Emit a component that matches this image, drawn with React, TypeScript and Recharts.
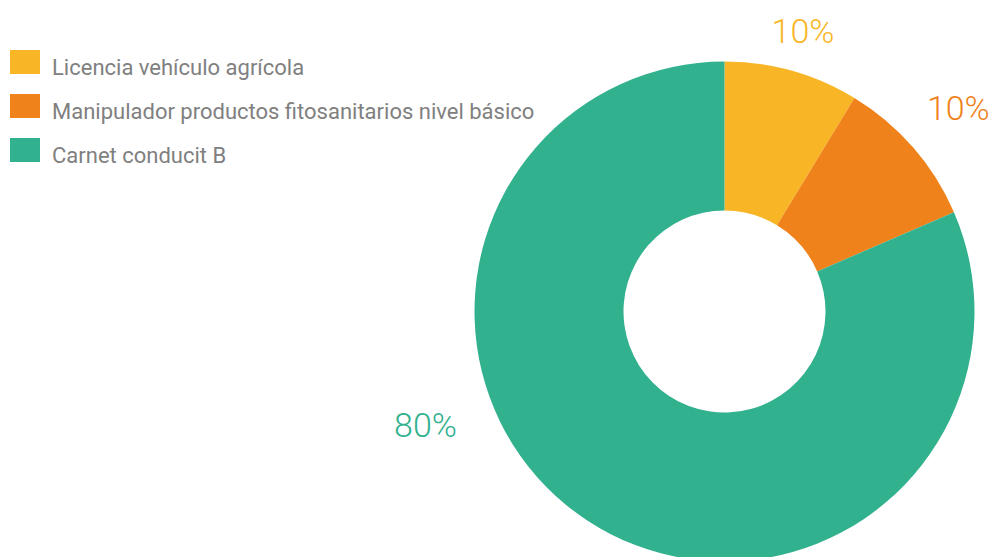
import { Cell, Legend, Pie, PieChart } from "recharts";

const categories = [
  "Licencia vehículo agrícola",
  "Manipulador productos fitosanitarios nivel básico",
  "Carnet conducit B",
];
const shares = [8.7, 9.8, 81.5];
const shareLabels = ["10%", "10%", "80%"];
const colors = ["#F8B627", "#EF821A", "#32B18F"];

const data = categories.map((name, i) => ({
  name,
  value: shares[i],
  label: shareLabels[i],
}));

const RAD = Math.PI / 180;

// label distance past the outer edge, and an angle override for the big slice
// (its mid angle falls below the picture, so the label is pulled up-left)
const labelGap = [41, 60, 70];
const labelAngle: Record<number, number> = { 2: 200.85 };

function renderLabel(props: any) {
  const { cx, cy, outerRadius, midAngle, index } = props;
  const angle = labelAngle[index] ?? midAngle;
  const r = outerRadius + labelGap[index];
  const x = cx + r * Math.cos(-angle * RAD);
  const y = cy + r * Math.sin(-angle * RAD);
  return (
    <text
      x={x}
      y={y}
      fill={colors[index]}
      textAnchor="middle"
      dominantBaseline="central"
      style={{ fontFamily: "Roboto", fontWeight: 300, fontSize: 34 }}
    >
      {data[index].label}
    </text>
  );
}

// keep the data order (recharts sorts the payload by name otherwise)
function renderLegend() {
  return (
    <div>
      {categories.map((name, i) => (
        <div key={name} style={{ display: "flex", alignItems: "center", height: 44 }}>
          <span
            style={{
              display: "inline-block",
              width: 30,
              height: 24,
              background: colors[i],
              marginRight: 12,
            }}
          />
          <span
            style={{
              fontFamily: "Roboto",
              fontSize: 22,
              color: "#808080",
              position: "relative",
              top: 5,
            }}
          >
            {name}
          </span>
        </div>
      ))}
    </div>
  );
}

export default function App() {
  return (
    <div style={{ position: "absolute", left: 0, top: 0, width: 990, height: 557, background: "#fff" }}>
      <PieChart width={990} height={557} margin={{ top: 0, right: 0, bottom: 0, left: 0 }}>
        <Pie
          data={data}
          dataKey="value"
          nameKey="name"
          cx={724.5}
          cy={311.5}
          innerRadius={101}
          outerRadius={250}
          startAngle={90}
          endAngle={-270}
          stroke="none"
          label={renderLabel}
          labelLine={false}
          isAnimationActive={false}
        >
          {data.map((_, i) => (
            <Cell key={i} fill={colors[i]} />
          ))}
        </Pie>
        <Legend
          layout="vertical"
          align="center"
          verticalAlign="middle"
          content={renderLegend}
          wrapperStyle={{ left: 10, top: 40, width: 600 }}
        />
      </PieChart>
    </div>
  );
}
